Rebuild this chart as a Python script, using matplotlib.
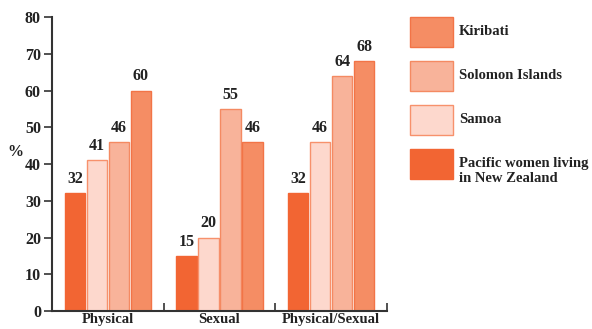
import matplotlib.pyplot as plt
from matplotlib.patches import Rectangle
import numpy as np

categories = ['Physical', 'Sexual', 'Physical/Sexual']
series_names = ['Pacific women living\nin New Zealand', 'Samoa', 'Solomon Islands', 'Kiribati']
nz = [32, 15, 32]
samoa = [41, 20, 46]
solomon = [46, 55, 64]
kiribati = [60, 46, 68]
y_ticks = [0, 10, 20, 30, 40, 50, 60, 70, 80]

FACE = ['#F26533', '#FDD8CD', '#F8B39A', '#F58D64']
EDGE = ['#F26533', '#F7916C', '#F48A62', '#F27447']

plt.rcParams['font.family'] = ['Liberation Serif', 'DejaVu Serif']
plt.rcParams['font.weight'] = 'bold'
plt.rcParams['font.size'] = 11.5

fig = plt.figure(figsize=(5.92, 3.29), dpi=100)
ax = fig.add_axes([52 / 592, 18 / 329, 335 / 592, 294 / 329])

x = np.arange(len(categories))
step = 0.197
width = 0.185
for i, vals in enumerate([nz, samoa, solomon, kiribati]):
    pos = x + (i - 1.5) * step
    bars = ax.bar(pos, vals, width=width, color=FACE[i], edgecolor=EDGE[i], linewidth=1)
    for b, v in zip(bars, vals):
        ax.annotate(str(v), (b.get_x() + b.get_width() / 2, v), xytext=(0, 4.5),
                    textcoords='offset points', ha='center', va='bottom',
                    color='#222222', fontweight='bold')

ax.set_xlim(-0.5, 2.5)
ax.set_ylim(0, 80)
ax.set_yticks(y_ticks)
ax.set_xticks([0.5, 1.5, 2.5])
ax.set_xticklabels([])
ax.set_xticks(x, minor=True)
ax.set_xticklabels(categories, minor=True, fontsize=10.5)
ax.tick_params(axis='x', which='major', direction='in', length=6, width=1.2, color='#333333')
ax.tick_params(axis='x', which='minor', length=0, pad=1.5, colors='#222222')
ax.tick_params(axis='y', direction='out', length=6, width=1.2, color='#333333',
               labelcolor='#222222', pad=2)
for s in ['top', 'right']:
    ax.spines[s].set_visible(False)
for s in ['left', 'bottom']:
    ax.spines[s].set_color('#333333')
    ax.spines[s].set_linewidth(1.5)

fig.text(15 / 592, 1 - 152 / 329, '%', ha='center', va='center', color='#222222')

# legend, top entry is the last series
legend_tops = [149, 105, 61, 17]
for i, name in enumerate(series_names):
    top = legend_tops[i]
    fig.patches.append(Rectangle((410 / 592, 1 - (top + 30) / 329), 43 / 592, 30 / 329,
                                 transform=fig.transFigure, facecolor=FACE[i],
                                 edgecolor=EDGE[i], linewidth=1))
    fig.text(459 / 592, 1 - (top + 8) / 329, name, ha='left', va='top',
             color='#222222', linespacing=1.25, fontsize=10.5)

fig.savefig('out.png', dpi=100)
